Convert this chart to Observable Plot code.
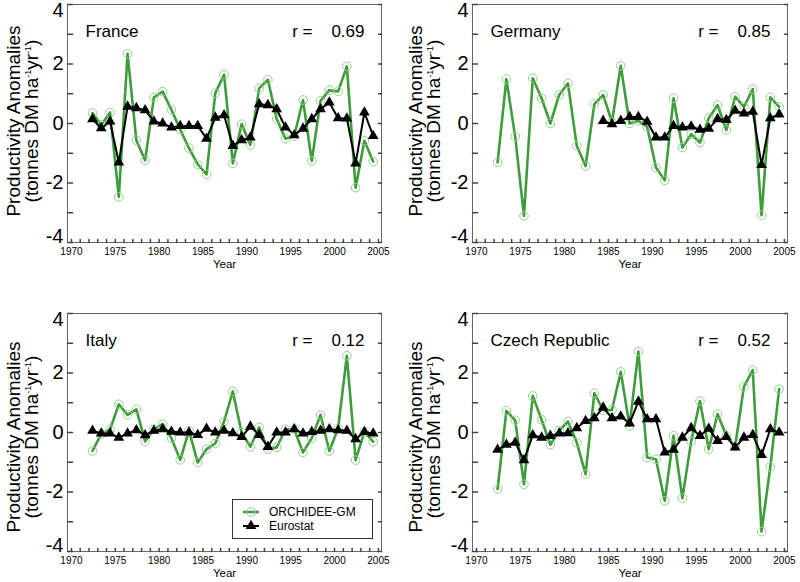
<!DOCTYPE html>
<html><head><meta charset="utf-8">
<script src="https://cdn.jsdelivr.net/npm/d3@7"></script>
<script src="https://cdn.jsdelivr.net/npm/@observablehq/plot@0.6"></script>
<style>
body{margin:0;background:#fff;font-family:"Liberation Sans",Arial,Helvetica,sans-serif;}
#root{position:relative;width:800px;height:582px;overflow:hidden;background:#fff}
.panel{position:absolute}
.ylab{position:absolute;transform:translate(-50%,-50%) rotate(-90deg);white-space:nowrap;text-align:center;font-size:19px;line-height:17.5px;color:#000}
.ylab sup{font-size:9px;vertical-align:7px;line-height:0}
.legend{position:absolute;left:232px;top:499px;width:139px;height:38px;border:1px solid #333;background:#fff}
</style></head><body><div id="root"></div>
<script>
// ---- data ----
const years = [1972,1973,1974,1975,1976,1977,1978,1979,1980,1981,1982,1983,1984,1985,1986,1987,1988,1989,1990,1991,1992,1993,1994,1995,1996,1997,1998,1999,2000,2001,2002,2003,2004];
const countries = ["France","Germany","Italy","Czech Republic"];
const rValues = ["0.69","0.85","0.12","0.52"];
const seriesNames = ["ORCHIDEE-GM","Eurostat"];
const yTickLabels = [4,2,0,-2,-4];
const xTickLabels = [1970,1975,1980,1985,1990,1995,2000,2005];

const franceModel = [0.35,-0.05,0.37,-2.47,2.34,-0.56,-1.24,0.88,1.07,0.46,-0.2,-0.83,-1.37,-1.71,1.02,1.64,-1.34,-0.02,-0.72,1.18,1.47,0.15,-0.51,-0.42,0.79,-1.26,0.76,1.12,1.08,1.92,-2.16,-0.58,-1.28];
const franceObs = [0.15,-0.16,0.07,-1.31,0.57,0.52,0.45,0.07,0.0,-0.13,-0.08,-0.08,-0.08,-0.51,0.2,0.28,-0.75,-0.56,-0.47,0.65,0.62,0.48,-0.13,-0.39,-0.17,0.15,0.48,0.71,0.18,0.17,-1.34,0.37,-0.42];
const germanyModel = [-1.31,1.49,-0.44,-3.11,1.52,0.85,0.0,0.96,1.35,-0.75,-1.43,0.65,0.96,0.05,1.94,0.0,0.09,-0.11,-1.48,-1.91,0.85,-0.81,-0.36,-0.64,0.18,0.62,-0.22,0.9,0.56,1.16,-3.08,0.88,0.56];
const germanyObs = [null,null,null,null,null,null,null,null,null,null,null,null,0.09,-0.02,0.09,0.22,0.22,0.06,-0.47,-0.47,-0.08,-0.13,-0.10,-0.21,-0.17,0.15,0.12,0.43,0.34,0.40,-1.39,0.18,0.31];
const italyModel = [-0.62,-0.05,0.1,0.95,0.59,0.78,-0.3,0.11,0.28,-0.19,-0.92,0.06,-1.01,-0.56,-0.37,0.37,1.38,0.0,-0.48,0.17,-0.56,-0.5,0.11,0.11,-0.67,-0.19,0.59,-0.62,0.13,2.58,-0.93,0.02,-0.31];
const italyObs = [0.06,-0.03,-0.03,-0.17,-0.03,0.08,-0.09,0.06,0.11,0.03,0.0,0.0,-0.08,0.13,0.0,0.06,-0.02,-0.15,0.2,-0.08,-0.48,0.0,0.0,0.11,-0.03,0.02,0.06,0.11,0.08,0.06,-0.22,0.02,-0.03];
const czechModel = [-1.9,0.73,0.41,-1.74,1.23,0.43,-0.41,0.06,0.37,-0.34,-1.4,1.32,0.75,0.76,2.04,0.22,2.72,-0.84,-0.9,-2.3,-0.11,-2.21,-0.3,1.06,-0.56,0.62,-0.11,-0.47,1.54,2.1,-3.33,-1.15,1.46];
const czechObs = [-0.58,-0.41,-0.34,-0.93,-0.09,-0.17,-0.11,-0.03,-0.02,0.15,0.39,0.48,0.84,0.48,0.54,0.31,1.04,0.45,0.45,-0.67,-0.58,-0.17,0.15,-0.11,0.13,-0.28,-0.15,-0.5,-0.17,-0.08,-0.75,0.11,0.0];

// ---- style ----
const GREEN = "#3f9c3a", LIGHTGREEN = "#93d08f";
const FONT = '"Liberation Sans",Arial,Helvetica,sans-serif';
const X_OFFSET = 0.4; // points drawn within the year
const xDomain = [1969.55, 2005.35];

const root = document.getElementById("root");

const layouts = [
  {left:0,   top:0,   ml:67, mr:19, mt:4,  mb:49},
  {left:400, top:0,   ml:72, mr:13, mt:4,  mb:49},
  {left:0,   top:291, ml:67, mr:19, mt:22, mb:31},
  {left:400, top:291, ml:72, mr:13, mt:22, mb:31}
];
const modelSeries = [franceModel, germanyModel, italyModel, czechModel];
const obsSeries = [franceObs, germanyObs, italyObs, czechObs];

const allYearTicks = d3.range(xTickLabels[0], xTickLabels[xTickLabels.length-1] + 1);
const allYTicks = d3.range(-4, 5);
const tickShape = {draw(ctx, l) { ctx.moveTo(0, 0); ctx.lineTo(0, -l); }};

countries.forEach((name, k) => {
  const L = layouts[k];
  const m = years.map((y, i) => ({x: y + X_OFFSET, v: modelSeries[k][i]}));
  const o = years.map((y, i) => ({x: y + X_OFFSET, v: obsSeries[k][i]})).filter(d => d.v != null);
  const svg = Plot.plot({
    width: 400, height: 291,
    marginLeft: L.ml, marginRight: L.mr, marginTop: L.mt, marginBottom: L.mb,
    style: {fontFamily: FONT, background: "transparent", overflow: "visible", color: "#000"},
    x: {domain: xDomain, label: null},
    y: {domain: [-4, 4], label: null},
    marks: [
      Plot.frame({stroke: "#666", strokeWidth: 1}),
      // inward ticks
      Plot.vector(allYTicks, {y: d => d, frameAnchor: "left", rotate: 90, length: 5, anchor: "start", shape: tickShape, stroke: "#444"}),
      Plot.vector(allYTicks, {y: d => d, frameAnchor: "right", rotate: -90, length: 3, anchor: "start", shape: tickShape, stroke: "#444"}),
      Plot.vector(allYearTicks, {x: d => d, frameAnchor: "bottom", rotate: 0, length: 3, anchor: "start", shape: tickShape, stroke: "#444"}),
      // tick labels
      Plot.axisY(yTickLabels.filter(d => Math.abs(d) < 4), {anchor: "left", tickSize: 0, tickPadding: 4, fontSize: 20, label: null, tickFormat: d => String(d)}),
      Plot.axisY([4], {anchor: "left", tickSize: 0, tickPadding: 4, fontSize: 20, label: null, dy: 6, tickFormat: d => String(d)}),
      Plot.axisY([-4], {anchor: "left", tickSize: 0, tickPadding: 4, fontSize: 20, label: null, dy: -6, tickFormat: d => String(d)}),
      Plot.axisX(xTickLabels, {anchor: "bottom", tickSize: 0, tickPadding: 5, fontSize: 10, label: null, tickFormat: d => String(d)}),
      Plot.text(["Year"], {text: d => d, frameAnchor: "bottom", dy: 25, fontSize: 11.5}),
      // data
      Plot.line(m, {x: "x", y: "v", stroke: GREEN, strokeWidth: 2.6}),
      Plot.dot(m, {x: "x", y: "v", r: 4.3, stroke: LIGHTGREEN, strokeWidth: 1, fill: "none"}),
      Plot.line(o, {x: "x", y: "v", stroke: "#000", strokeWidth: 2}),
      Plot.dot(o, {x: "x", y: "v", symbol: "triangle", r: 4, fill: "#000", stroke: "none"}),
      // panel titles
      Plot.text([name], {text: d => d, frameAnchor: "top-left", dx: 18, dy: 32, lineAnchor: "bottom", textAnchor: "start", fontSize: 17}),
      Plot.text([rValues[k]], {text: d => "r =\u00a0\u00a0\u00a0\u00a0" + d, frameAnchor: "top-right", dx: -17, dy: 32, lineAnchor: "bottom", textAnchor: "end", fontSize: 17})
    ]
  });
  svg.classList.add("panel");
  svg.style.left = L.left + "px";
  svg.style.top = L.top + "px";
  root.appendChild(svg);

  const lab = document.createElement("div");
  lab.className = "ylab";
  lab.innerHTML = "Productivity Anomalies<br>(tonnes DM ha<sup>-1</sup>yr<sup>-1</sup>)";
  lab.style.left = (L.left + (k % 2 ? 23.5 : 22)) + "px";
  lab.style.top = (k < 2 ? 121 : 437) + "px";
  root.appendChild(lab);
});

// legend (Italy panel)
const leg = document.createElement("div");
leg.className = "legend";
leg.innerHTML = `<svg width="139" height="38" style="font-family:${FONT}">
  <line x1="10" x2="26" y1="12" y2="12" stroke="${GREEN}" stroke-width="2.6"/>
  <circle cx="18" cy="12" r="4.3" fill="none" stroke="${LIGHTGREEN}"/>
  <text x="36" y="16" font-size="12">${seriesNames[0]}</text>
  <line x1="10" x2="26" y1="26" y2="26" stroke="#000" stroke-width="2"/>
  <path d="${d3.symbol(d3.symbolTriangle, 50)()}" transform="translate(18,26)" fill="#000"/>
  <text x="36" y="30" font-size="12">${seriesNames[1]}</text>
</svg>`;
root.appendChild(leg);
</script>
</body></html>
